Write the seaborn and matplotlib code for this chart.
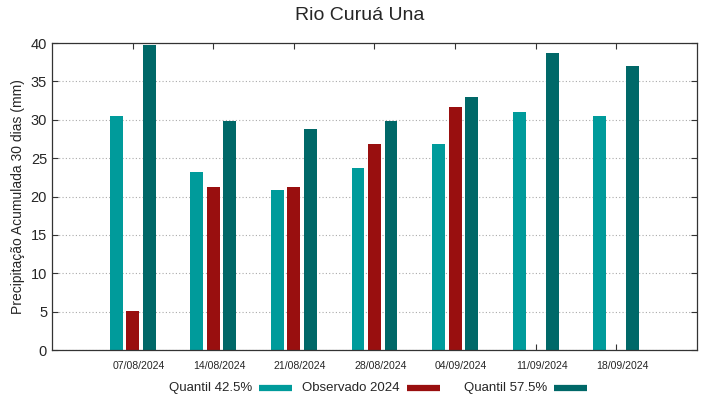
import numpy as np
import pandas as pd
import matplotlib
matplotlib.use("Agg")
import matplotlib.pyplot as plt
import matplotlib.transforms as mtrans
from matplotlib.lines import Line2D
import seaborn as sns

dates = ["07/08/2024", "14/08/2024", "21/08/2024", "28/08/2024", "04/09/2024", "11/09/2024", "18/09/2024"]
q425 = [30.45, 23.15, 20.9, 23.75, 26.9, 31.05, 30.5]
obs2024 = [5.1, 21.3, 21.3, 26.9, 31.65, np.nan, np.nan]
q575 = [39.8, 29.9, 28.8, 29.8, 33.0, 38.75, 37.0]
series_names = ["Quantil 42.5%", "Observado 2024", "Quantil 57.5%"]
colors = ["#009b9b", "#990f0f", "#006868"]

df = pd.DataFrame({
    "data": dates * 3,
    "valor": q425 + obs2024 + q575,
    "serie": [series_names[0]] * 7 + [series_names[1]] * 7 + [series_names[2]] * 7,
})

sns.set_style("white")
plt.rcParams["font.family"] = ["Liberation Sans", "DejaVu Sans"]

fig = plt.figure(figsize=(7.19, 3.99), dpi=100)
ax = fig.add_axes([0.0723, 0.1228, 0.8971, 0.7694])

sns.barplot(data=df, x="data", y="valor", hue="serie", hue_order=series_names,
            order=dates, palette=colors, width=0.615, gap=0.22, ax=ax,
            legend=False, saturation=1, errorbar=None, linewidth=0)

ax.set_xlim(-1, 7)
ax.set_ylim(0, 40)
ax.set_yticks(range(0, 41, 5))
ax.set_xticks(range(7))
ax.set_xticklabels(dates, fontsize=7.6)
ax.tick_params(axis="x", direction="in", length=4, top=True, bottom=True, pad=8, color="#333333")
ax.tick_params(axis="y", direction="in", length=4, left=True, right=True, labelsize=10.5, color="#333333")
offset = mtrans.ScaledTranslation(6 / 100, 0, fig.dpi_scale_trans)
for lab in ax.get_xticklabels():
    lab.set_transform(lab.get_transform() + offset)
ax.yaxis.grid(True, linestyle=(0, (1, 2)), color="#aaaaaa", linewidth=0.8)
ax.xaxis.grid(False)
ax.set_axisbelow(True)
for s in ax.spines.values():
    s.set_color("#333333")
    s.set_linewidth(0.9)
ax.set_xlabel("")
ax.set_ylabel("Precipitação Acumulada 30 dias (mm)", fontsize=10)
fig.text(0.5, 0.962, "Rio Curuá Una", ha="center", va="center", fontsize=14)

# legend: right-aligned text followed by a colour sample, in fixed-width columns
W, H = 719, 399
leg_y = 1 - 388 / H
patch_x0 = [259, 407, 554]
for name, c, px in zip(series_names, colors, patch_x0):
    fig.text((px - 7) / W, leg_y, name, ha="right", va="center", fontsize=9.5)
    fig.add_artist(Line2D([px / W, (px + 33) / W], [leg_y, leg_y], color=c, lw=4.5,
                          solid_capstyle="butt", transform=fig.transFigure))

fig.savefig("out.png", dpi=100)
